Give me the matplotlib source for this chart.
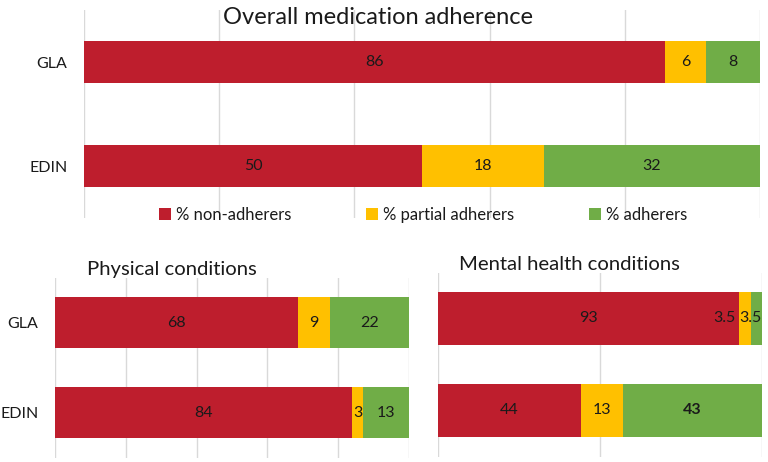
import numpy as np
import matplotlib
matplotlib.use('Agg')
import matplotlib.pyplot as plt

plt.rcParams['font.family'] = ['Lato', 'DejaVu Sans']

sites  = ['GLA', 'EDIN']
groups = ['% non-adherers', '% partial adherers', '% adherers']
colors = ['#BE1E2D', '#FFC000', '#70AD47']

overall_non      = [86, 50]
overall_partial  = [6, 18]
overall_adh      = [8, 32]

physical_non     = [68, 84]
physical_partial = [9, 3]
physical_adh     = [22, 13]

mental_non       = [93, 44]
mental_partial   = [3.5, 13]
mental_adh       = [3.5, 43]

W, H = 768, 462
txt_c = '#1a1a1a'


def px_axes(fig, x0, x1, y0, y1):
    return fig.add_axes([x0 / W, 1 - y1 / H, (x1 - x0) / W, (y1 - y0) / H])


def draw_stack(ax, non, partial, adh, height, xstep, show_y=True, skip=(), fs=11.5):
    vals   = np.array([non, partial, adh], dtype=float)
    pct    = vals / vals.sum(axis=0) * 100
    left   = np.zeros(len(sites))
    y      = np.arange(len(sites))
    lefts  = []
    for i in range(3):
        ax.barh(y, pct[i], left=left, height=height, color=colors[i],
                label=groups[i], zorder=2)
        lefts.append(left.copy())
        for j in range(len(sites)):
            if (i, j) in skip:
                continue
            ax.text(left[j] + pct[i, j] / 2, y[j], f"{vals[i, j]:g}",
                    ha='center', va='center', fontsize=fs, color=txt_c, zorder=3)
        left = left + pct[i]

    ax.set_xlim(0, 100)
    ax.set_ylim(len(sites) - 0.5, -0.5)
    ax.set_xticks(np.arange(0, 101, xstep))
    ax.set_xticklabels([])
    ax.tick_params(axis='both', length=0)
    ax.set_yticks(y)
    if show_y:
        ax.set_yticklabels(sites, fontsize=11.5, color=txt_c)
        ax.tick_params(axis='y', pad=12)
    else:
        ax.set_yticklabels([])
    ax.grid(axis='x', color='#D9D9D9', lw=1, zorder=0)
    ax.set_axisbelow(True)
    for s in ax.spines.values():
        s.set_visible(False)
    return vals, pct, lefts


fig = plt.figure(figsize=(W / 100, H / 100), dpi=100)

# overall
ax1 = px_axes(fig, 84, 760, 10, 218)
draw_stack(ax1, overall_non, overall_partial, overall_adh, 0.4, 20)
fig.text(378 / W, 1 - 17 / H, 'Overall medication adherence', ha='center', va='center',
         fontsize=17, color=txt_c)
handles, labels = ax1.get_legend_handles_labels()
fig.legend(handles, labels, loc='center', bbox_to_anchor=(423 / W, 1 - 215 / H), ncol=3,
           frameon=False, fontsize=12, handlelength=0.7, handleheight=0.7,
           handletextpad=0.3, columnspacing=4.5, labelcolor=txt_c)

# physical
ax2 = px_axes(fig, 55, 409, 278, 457.5)
draw_stack(ax2, physical_non, physical_partial, physical_adh, 0.57, 20)
fig.text(172 / W, 1 - 270 / H, 'Physical conditions', ha='center', va='center',
         fontsize=14.6, color=txt_c)

# mental
ax3 = px_axes(fig, 438, 762, 272.5, 456.5)
vals, pct, lefts = draw_stack(ax3, mental_non, mental_partial, mental_adh, 0.58, 50,
                              show_y=False, skip=((1, 0), (2, 0)))
# small segments on the GLA bar: labels pushed aside
ax3.text(lefts[1][0] - 1.2, 0, f"{vals[1, 0]:g}", ha='right', va='center',
         fontsize=11.5, color=txt_c, zorder=3)
ax3.text(lefts[2][0], 0, f"{vals[2, 0]:g}", ha='center', va='center',
         fontsize=11.5, color=txt_c, zorder=3)
for t in ax3.texts:
    if t.get_text() == '43':
        t.set_fontweight('bold')
fig.text(569 / W, 1 - 265 / H, 'Mental health conditions', ha='center', va='center',
         fontsize=14.6, color=txt_c)

plt.savefig('out.png', dpi=100)
